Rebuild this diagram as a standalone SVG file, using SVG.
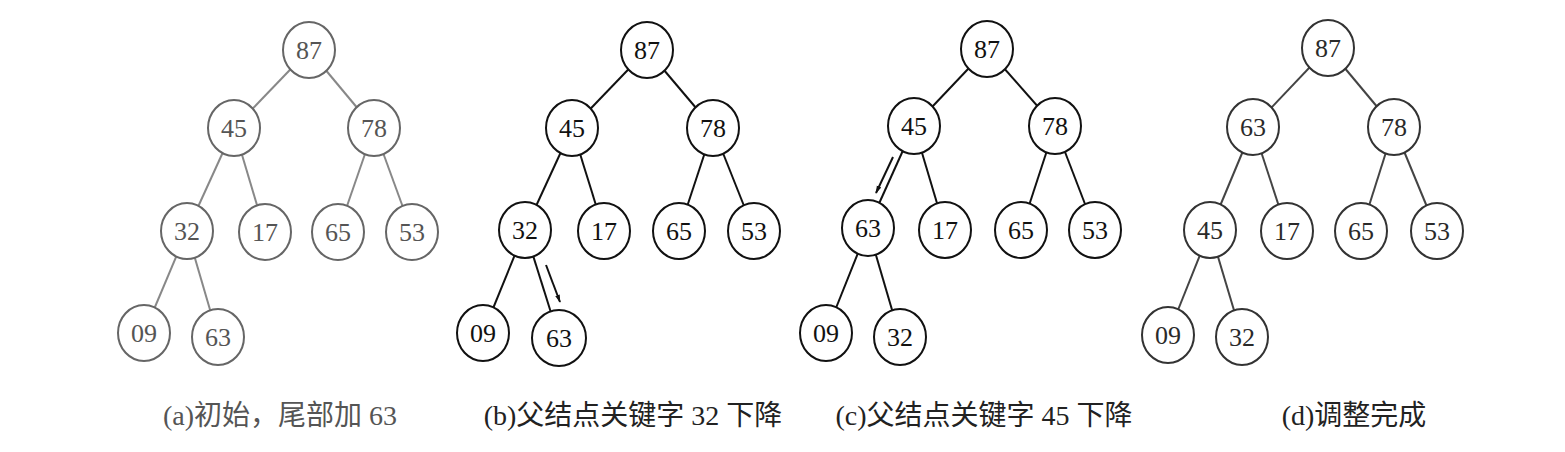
<svg xmlns="http://www.w3.org/2000/svg" width="1565" height="452" viewBox="0 0 1565 452">
<defs>
<marker id="ah" viewBox="0 0 10 10" refX="9" refY="5" markerWidth="8" markerHeight="8" orient="auto" markerUnits="userSpaceOnUse"><path d="M0,2 L10,5 L0,8 z" fill="#111"/></marker>
</defs>
<style>
.n ellipse{fill:#fff;stroke:#111;stroke-width:2}
.n text{font-family:"Liberation Serif",serif;font-size:26px;fill:#111;text-anchor:middle;dominant-baseline:central}
.ga ellipse{stroke:#666}
.ga text{fill:#555}
.gd ellipse{stroke:#333}
.gd text{fill:#2a2a2a}
.e line{stroke:#111;stroke-width:2}
.ea line{stroke:#888}
.ed line{stroke:#444}
.cap{font-family:"Liberation Serif","Noto Sans CJK SC",serif;font-size:28px;fill:#222;text-anchor:middle}
</style>
<rect width="1565" height="452" fill="#fff"/>
<g id="connectors">
<g class="e ea">
<line x1="309" y1="50" x2="234" y2="128"/><line x1="309" y1="50" x2="374" y2="128"/>
<line x1="234" y1="128" x2="187" y2="231"/><line x1="234" y1="128" x2="265" y2="232"/>
<line x1="374" y1="128" x2="338" y2="232"/><line x1="374" y1="128" x2="412" y2="232"/>
<line x1="187" y1="231" x2="144" y2="333"/><line x1="187" y1="231" x2="218" y2="337"/>
</g>
<g class="e">
<line x1="647" y1="50" x2="572" y2="128"/><line x1="647" y1="50" x2="713" y2="128"/>
<line x1="572" y1="128" x2="525" y2="230"/><line x1="572" y1="128" x2="604" y2="231"/>
<line x1="713" y1="128" x2="679" y2="231"/><line x1="713" y1="128" x2="754" y2="231"/>
<line x1="525" y1="230" x2="483" y2="333"/><line x1="525" y1="230" x2="559" y2="338"/>
<line x1="546" y1="265" x2="560" y2="302" marker-end="url(#ah)" stroke-width="1.6"/>
</g>
<g class="e">
<line x1="987" y1="49" x2="914" y2="126"/><line x1="987" y1="49" x2="1055" y2="126"/>
<line x1="914" y1="126" x2="868" y2="228"/><line x1="914" y1="126" x2="945" y2="230"/>
<line x1="1055" y1="126" x2="1021" y2="230"/><line x1="1055" y1="126" x2="1095" y2="230"/>
<line x1="868" y1="228" x2="826" y2="333"/><line x1="868" y1="228" x2="900" y2="337"/>
<line x1="893" y1="157" x2="876" y2="193" marker-end="url(#ah)" stroke-width="1.6"/>
</g>
<g class="e ed">
<line x1="1328" y1="48" x2="1253" y2="127"/><line x1="1328" y1="48" x2="1394" y2="127"/>
<line x1="1253" y1="127" x2="1210" y2="230"/><line x1="1253" y1="127" x2="1287" y2="231"/>
<line x1="1394" y1="127" x2="1361" y2="231"/><line x1="1394" y1="127" x2="1437" y2="231"/>
<line x1="1210" y1="230" x2="1168" y2="335"/><line x1="1210" y1="230" x2="1242" y2="337"/>
</g>
</g>
<g id="panel-a" class="n ga">
<g id="a87"><ellipse cx="309" cy="50" rx="26" ry="28"/><text x="309" y="50">87</text></g>
<g id="a45"><ellipse cx="234" cy="128" rx="26" ry="28"/><text x="234" y="128">45</text></g>
<g id="a78"><ellipse cx="374" cy="128" rx="26" ry="28"/><text x="374" y="128">78</text></g>
<g id="a32"><ellipse cx="187" cy="231" rx="26" ry="28"/><text x="187" y="231">32</text></g>
<g id="a17"><ellipse cx="265" cy="232" rx="26" ry="28"/><text x="265" y="232">17</text></g>
<g id="a65"><ellipse cx="338" cy="232" rx="26" ry="28"/><text x="338" y="232">65</text></g>
<g id="a53"><ellipse cx="412" cy="232" rx="26" ry="28"/><text x="412" y="232">53</text></g>
<g id="a09"><ellipse cx="144" cy="333" rx="26" ry="28"/><text x="144" y="333">09</text></g>
<g id="a63"><ellipse cx="218" cy="337" rx="26" ry="28"/><text x="218" y="337">63</text></g>
</g>
<g id="panel-b" class="n">
<g id="b87"><ellipse cx="647" cy="50" rx="26" ry="28"/><text x="647" y="50">87</text></g>
<g id="b45"><ellipse cx="572" cy="128" rx="26" ry="28"/><text x="572" y="128">45</text></g>
<g id="b78"><ellipse cx="713" cy="128" rx="26" ry="28"/><text x="713" y="128">78</text></g>
<g id="b32"><ellipse cx="525" cy="230" rx="26" ry="28"/><text x="525" y="230">32</text></g>
<g id="b17"><ellipse cx="604" cy="231" rx="26" ry="28"/><text x="604" y="231">17</text></g>
<g id="b65"><ellipse cx="679" cy="231" rx="26" ry="28"/><text x="679" y="231">65</text></g>
<g id="b53"><ellipse cx="754" cy="231" rx="26" ry="28"/><text x="754" y="231">53</text></g>
<g id="b09"><ellipse cx="483" cy="333" rx="26" ry="28"/><text x="483" y="333">09</text></g>
<g id="b63"><ellipse cx="559" cy="338" rx="27" ry="28"/><text x="559" y="338">63</text></g>
</g>
<g id="panel-c" class="n">
<g id="c87"><ellipse cx="987" cy="49" rx="26" ry="28"/><text x="987" y="49">87</text></g>
<g id="c45"><ellipse cx="914" cy="126" rx="26" ry="28"/><text x="914" y="126">45</text></g>
<g id="c78"><ellipse cx="1055" cy="126" rx="26" ry="28"/><text x="1055" y="126">78</text></g>
<g id="c63"><ellipse cx="868" cy="228" rx="26" ry="28"/><text x="868" y="228">63</text></g>
<g id="c17"><ellipse cx="945" cy="230" rx="26" ry="28"/><text x="945" y="230">17</text></g>
<g id="c65"><ellipse cx="1021" cy="230" rx="26" ry="28"/><text x="1021" y="230">65</text></g>
<g id="c53"><ellipse cx="1095" cy="230" rx="26" ry="28"/><text x="1095" y="230">53</text></g>
<g id="c09"><ellipse cx="826" cy="333" rx="26" ry="28"/><text x="826" y="333">09</text></g>
<g id="c32"><ellipse cx="900" cy="337" rx="26" ry="28"/><text x="900" y="337">32</text></g>
</g>
<g id="panel-d" class="n gd">
<g id="d87"><ellipse cx="1328" cy="48" rx="26" ry="28"/><text x="1328" y="48">87</text></g>
<g id="d63"><ellipse cx="1253" cy="127" rx="26" ry="28"/><text x="1253" y="127">63</text></g>
<g id="d78"><ellipse cx="1394" cy="127" rx="26" ry="28"/><text x="1394" y="127">78</text></g>
<g id="d45"><ellipse cx="1210" cy="230" rx="26" ry="28"/><text x="1210" y="230">45</text></g>
<g id="d17"><ellipse cx="1287" cy="231" rx="26" ry="28"/><text x="1287" y="231">17</text></g>
<g id="d65"><ellipse cx="1361" cy="231" rx="26" ry="28"/><text x="1361" y="231">65</text></g>
<g id="d53"><ellipse cx="1437" cy="231" rx="26" ry="28"/><text x="1437" y="231">53</text></g>
<g id="d09"><ellipse cx="1168" cy="335" rx="26" ry="28"/><text x="1168" y="335">09</text></g>
<g id="d32"><ellipse cx="1242" cy="337" rx="26" ry="28"/><text x="1242" y="337">32</text></g>
</g>
<g id="captions">
<text class="cap" x="280" y="425" style="fill:#555">(a)初始，尾部加 63</text>
<text class="cap" x="633" y="425">(b)父结点关键字 32 下降</text>
<text class="cap" x="984" y="425">(c)父结点关键字 45 下降</text>
<text class="cap" x="1354" y="425">(d)调整完成</text>
</g>
</svg>
